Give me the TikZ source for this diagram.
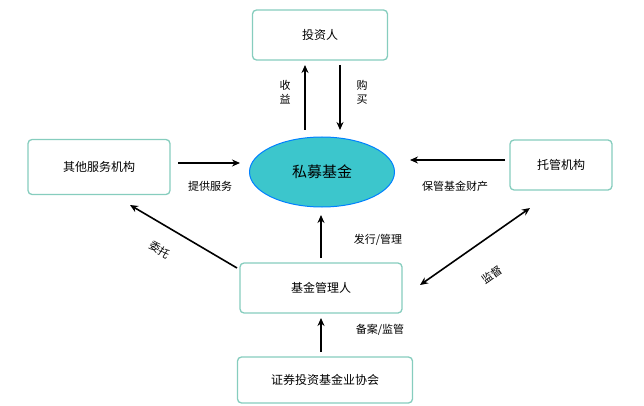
\documentclass[tikz,border=0pt]{standalone}
\usepackage{fontspec}
\newfontfamily\cjk{Noto Sans CJK SC}
\usetikzlibrary{arrows.meta,shapes.geometric}
\definecolor{boxc}{HTML}{86CDBE}
\definecolor{ellc}{HTML}{3CC6CC}
\begin{document}
\begin{tikzpicture}[x=1pt,y=-1pt,font=\cjk\fontsize{12}{14}\selectfont,
 box/.style={draw=boxc, line width=1.3pt, rounded corners=4pt, fill=white, minimum height=50pt, inner sep=2pt},
 arr/.style={-{Stealth[length=8pt,width=7pt]}, line width=1.6pt},
 lbl/.style={font=\cjk\fontsize{11}{14}\selectfont}]
\useasboundingbox (0,0) rectangle (644,406);
\node[box, minimum width=135pt] (inv) at (320,35) {投资人};
\node[ellipse, draw=blue!50!cyan, line width=1pt, fill=ellc, minimum width=145pt, minimum height=70pt, font=\cjk\fontsize{15}{18}\selectfont] (fund) at (322,172) {私募基金};
\node[box, minimum width=142pt, minimum height=55pt] (other) at (99,167) {其他服务机构};
\node[box, minimum width=102pt] (cust) at (561,165) {托管机构};
\node[box, minimum width=162pt] (mgr) at (321,288) {基金管理人};
\node[box, minimum width=175pt, minimum height=46pt] (assoc) at (325,380) {证券投资基金业协会};
\coordinate (a1) at (305,130); \coordinate (a2) at (305,65);
\draw[arr] (a1) -- (a2);
\coordinate (b1) at (340,65); \coordinate (b2) at (340,130);
\draw[arr] (b1) -- (b2);
\node[lbl, align=center] (l1) at (285,92) {收\\益};
\node[lbl, align=center] (l2) at (362,92) {购\\买};
\coordinate (c1) at (178,163); \coordinate (c2) at (240,163);
\draw[arr] (c1) -- (c2);
\node[lbl] (l3) at (210,186) {提供服务};
\coordinate (d1) at (505,160); \coordinate (d2) at (410,160);
\draw[arr] (d1) -- (d2);
\node[lbl] (l4) at (455,186) {保管基金财产};
\coordinate (e1) at (321,258); \coordinate (e2) at (321,215);
\draw[arr] (e1) -- (e2);
\node[lbl] (l5) at (378,240) {发行/管理};
\coordinate (f1) at (237,268); \coordinate (f2) at (130,205);
\draw[arr] (f1) -- (f2);
\node[lbl, rotate=-32] (l6) at (160,250) {委托};
\coordinate (g1) at (420,285); \coordinate (g2) at (530,208);
\draw[arr, {Stealth[length=8pt,width=7pt]}-{Stealth[length=8pt,width=7pt]}] (g1) -- (g2);
\node[lbl, rotate=35] (l7) at (492,275) {监督};
\coordinate (h1) at (321,352); \coordinate (h2) at (321,318);
\draw[arr] (h1) -- (h2);
\node[lbl] (l8) at (380,330) {备案/监管};
\end{tikzpicture}
\end{document}
